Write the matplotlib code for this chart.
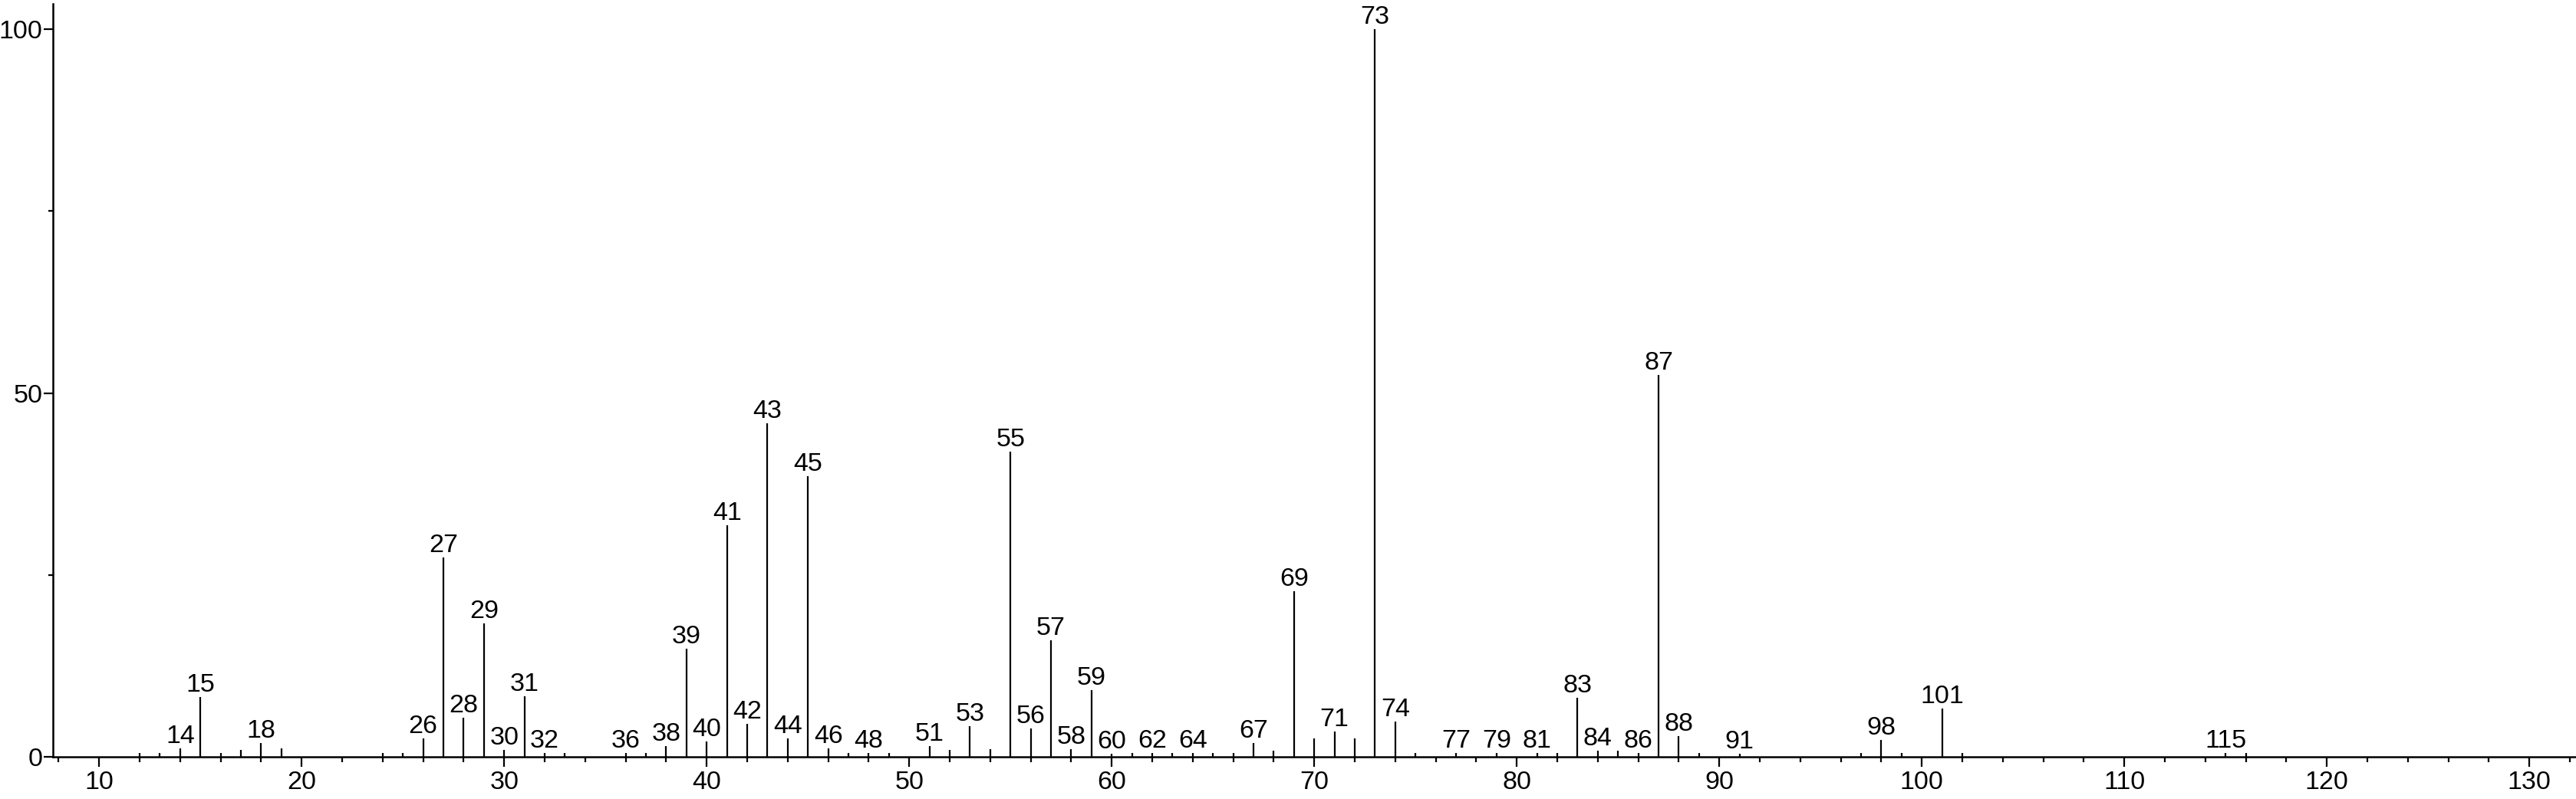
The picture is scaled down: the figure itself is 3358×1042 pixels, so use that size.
import numpy as np
import matplotlib
matplotlib.use('Agg')
import matplotlib.pyplot as plt
from matplotlib.ticker import MultipleLocator

plt.rcParams['font.family'] = ['Liberation Sans', 'DejaVu Sans']

# mass spectrum: m/z and relative intensity (%)
mz = [12, 13, 14, 15, 16, 17, 18, 19, 24, 25, 26, 27, 28, 29, 30, 31, 32, 33,
      36, 37, 38, 39, 40, 41, 42, 43, 44, 45, 46, 47, 48, 49, 51, 52, 53, 54,
      55, 56, 57, 58, 59, 60, 61, 62, 63, 64, 65, 66, 67, 68, 69, 70, 71, 72,
      73, 74, 75, 77, 79, 81, 82, 83, 84, 85, 86, 87, 88, 89, 91, 97, 98, 99,
      101, 102, 115, 116]
intensity = [0.5, 0.5, 1.2, 8.2, 0.5, 0.9, 1.9, 1.2, 0.5, 0.5, 2.5, 27.4, 5.4,
             18.3, 0.9, 8.3, 0.5, 0.5, 0.5, 0.5, 1.5, 14.9, 2.1, 31.8, 4.5,
             45.8, 2.5, 38.6, 1.2, 0.5, 0.5, 0.5, 1.5, 0.9, 4.2, 1.1, 41.9,
             3.9, 16.0, 1.1, 9.2, 0.4, 0.5, 0.5, 0.5, 0.5, 0.5, 0.5, 1.9, 0.8,
             22.8, 2.5, 3.5, 2.5, 100.0, 4.9, 0.5, 0.5, 0.5, 0.5, 0.5, 8.1,
             0.8, 0.8, 0.5, 52.5, 2.8, 0.5, 0.45, 0.5, 2.3, 0.5, 6.6, 0.5,
             0.5, 0.5]

labeled = [14, 15, 18, 26, 27, 28, 29, 30, 31, 32, 36, 38, 39, 40, 41, 42, 43,
           44, 45, 46, 48, 51, 53, 55, 56, 57, 58, 59, 60, 62, 64, 67, 69, 71,
           73, 74, 77, 79, 81, 83, 84, 86, 87, 88, 91, 98, 101, 115]

fig = plt.figure(figsize=(33.58, 10.42), dpi=100)
ax = fig.add_axes([69.3 / 3358, 55 / 1042, 1 - 69.3 / 3358, 982 / 1042])

ax.vlines(mz, 0, intensity, color='black', linewidth=1.6)

peaks = dict(zip(mz, intensity))
for m in labeled:
    ax.annotate(str(m), (m, peaks[m]), xytext=(0, 0), textcoords='offset points',
                ha='center', va='bottom', fontsize=24.5)

ax.set_xlim(7.73, 132.3)
ax.set_ylim(0, 103.5)

for s in ['top', 'right']:
    ax.spines[s].set_visible(False)
for s in ['left', 'bottom']:
    ax.spines[s].set_linewidth(1.8)

ax.xaxis.set_major_locator(MultipleLocator(10))
ax.xaxis.set_minor_locator(MultipleLocator(2))
ax.yaxis.set_major_locator(MultipleLocator(50))
ax.yaxis.set_minor_locator(MultipleLocator(25))
ax.tick_params(axis='x', which='major', length=9.6, width=1.6, pad=3.5, labelsize=24.5)
ax.tick_params(axis='x', which='minor', length=5.3, width=1.6)
ax.tick_params(axis='y', which='major', length=9, width=1.6, pad=1, labelsize=24.5)
ax.tick_params(axis='y', which='minor', length=4, width=1.6)

fig.savefig('out.png', dpi=100)
